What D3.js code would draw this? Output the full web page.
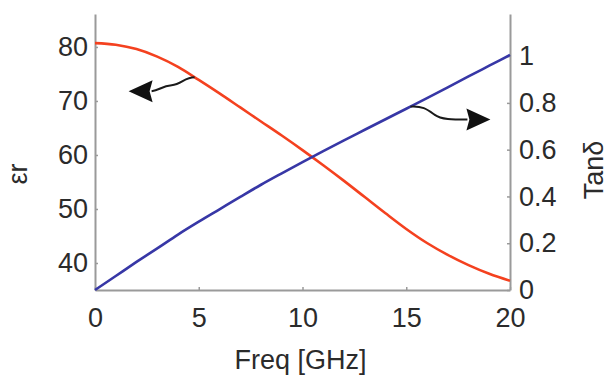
<html>
<head>
  <script src="https://d3js.org/d3.v7.min.js"></script>
  <style>
    body { margin: 0; background: white; }
  </style>
</head>
<body>
<script>

// frequency points (GHz)
let freq = [0, 1, 2, 3, 4, 5, 6, 7, 8, 9, 10, 11, 12, 13, 14, 15, 16, 17, 18, 19, 20];
// relative permittivity (left axis)
let epsR = [80.7, 80.4, 79.6, 78.2, 76.3, 73.9, 71.4, 68.8, 66.2, 63.6, 60.9, 58.1, 55.2, 52.2, 49.2, 46.3, 43.7, 41.5, 39.6, 38.0, 36.7];
// loss tangent (right axis)
let tanD = [0, 0.06, 0.12, 0.178, 0.237, 0.292, 0.345, 0.398, 0.45, 0.499, 0.547, 0.594, 0.64, 0.685, 0.73, 0.775, 0.82, 0.866, 0.913, 0.959, 1.005];

let xTicks = [0, 5, 10, 15, 20];
let leftTicks = [40, 50, 60, 70, 80];
let rightTicks = [0, 0.2, 0.4, 0.6, 0.8, 1];

let canvasW = 611;
let canvasH = 381;
let plotL = 95, plotR = 510, plotT = 14, plotB = 290;
let fontSize = "27px";
let font = "'Liberation Sans', Arial, sans-serif";

let svg = d3.select("body").append("svg")
  .attr("width", canvasW)
  .attr("height", canvasH)
  .style("background-color", "white");

let x = d3.scaleLinear().domain([0, 20]).range([plotL, plotR]);
let yL = d3.scaleLinear().domain([35, 86.1]).range([plotB, plotT]);
let yR = d3.scaleLinear().domain([0, 1.18]).range([plotB, plotT]);

function styleAxis(g) {
  g.select(".domain").attr("stroke", "#9a9a9a").attr("stroke-width", 2);
  g.selectAll(".tick line").attr("stroke", "#9a9a9a").attr("stroke-width", 1.5);
  g.selectAll(".tick text")
    .attr("font-family", font)
    .attr("font-size", fontSize)
    .attr("fill", "#2b2b2b");
}

svg.append("g")
  .attr("transform", "translate(0," + plotB + ")")
  .call(d3.axisBottom(x).tickValues(xTicks).tickFormat(d3.format("d")).tickSize(-3).tickSizeOuter(0).tickPadding(18))
  .call(styleAxis);

svg.append("g")
  .attr("transform", "translate(" + plotL + ",0)")
  .call(d3.axisLeft(yL).tickValues(leftTicks).tickFormat(d3.format("d")).tickSize(-3).tickSizeOuter(0).tickPadding(7))
  .call(styleAxis);

svg.append("g")
  .attr("transform", "translate(" + plotR + ",0)")
  .call(d3.axisRight(yR).tickValues(rightTicks).tickFormat(d => d === 0 || d === 1 ? d3.format("d")(d) : d3.format(".1f")(d)).tickSize(-3).tickSizeOuter(0).tickPadding(9))
  .call(styleAxis);

// curves
let redLine = d3.line()
  .x((d, i) => x(freq[i]))
  .y(d => yL(d))
  .curve(d3.curveMonotoneX);

let blueLine = d3.line()
  .x((d, i) => x(freq[i]))
  .y(d => yR(d))
  .curve(d3.curveMonotoneX);

svg.append("path")
  .datum(epsR)
  .attr("d", redLine)
  .attr("fill", "none")
  .attr("stroke", "#f4411f")
  .attr("stroke-width", 2.6);

svg.append("path")
  .datum(tanD)
  .attr("d", blueLine)
  .attr("fill", "none")
  .attr("stroke", "#3737a6")
  .attr("stroke-width", 2.6);

// arrows pointing at the axis each curve belongs to
let leftArrow = svg.append("g")
  .attr("transform", "translate(" + x(4.8) + "," + yL(74.4) + ")");
leftArrow.append("path")
  .attr("d", "M0,0 C-10,0 -13,7 -23,8 S-35,13 -43,14")
  .attr("fill", "none")
  .attr("stroke", "#1a1a1a")
  .attr("stroke-width", 2);
leftArrow.append("path")
  .attr("d", "M-66,14 L-42,3 L-45,14 L-42,25 Z")
  .attr("fill", "#111");

let rightArrow = svg.append("g")
  .attr("transform", "translate(" + x(15.2) + "," + yR(0.784) + ")");
rightArrow.append("path")
  .attr("d", "M0,0 C12,-1 17,3 24,8 S42,13 57,13")
  .attr("fill", "none")
  .attr("stroke", "#1a1a1a")
  .attr("stroke-width", 2);
rightArrow.append("path")
  .attr("d", "M80,13 L56,2 L59,13 L56,24 Z")
  .attr("fill", "#111");

// axis titles
svg.append("text")
  .attr("x", (plotL + plotR) / 2 - 2)
  .attr("y", 369)
  .attr("text-anchor", "middle")
  .attr("font-family", font)
  .attr("font-size", fontSize)
  .attr("fill", "#2b2b2b")
  .text("Freq [GHz]");

svg.append("text")
  .attr("transform", "translate(27,174) rotate(-90)")
  .attr("text-anchor", "middle")
  .attr("font-family", font)
  .attr("font-size", fontSize)
  .attr("fill", "#2b2b2b")
  .text("εr");

svg.append("text")
  .attr("transform", "translate(603,170) rotate(-90)")
  .attr("text-anchor", "middle")
  .attr("font-family", font)
  .attr("font-size", fontSize)
  .attr("fill", "#2b2b2b")
  .text("Tanδ");

</script>
</body>
</html>
